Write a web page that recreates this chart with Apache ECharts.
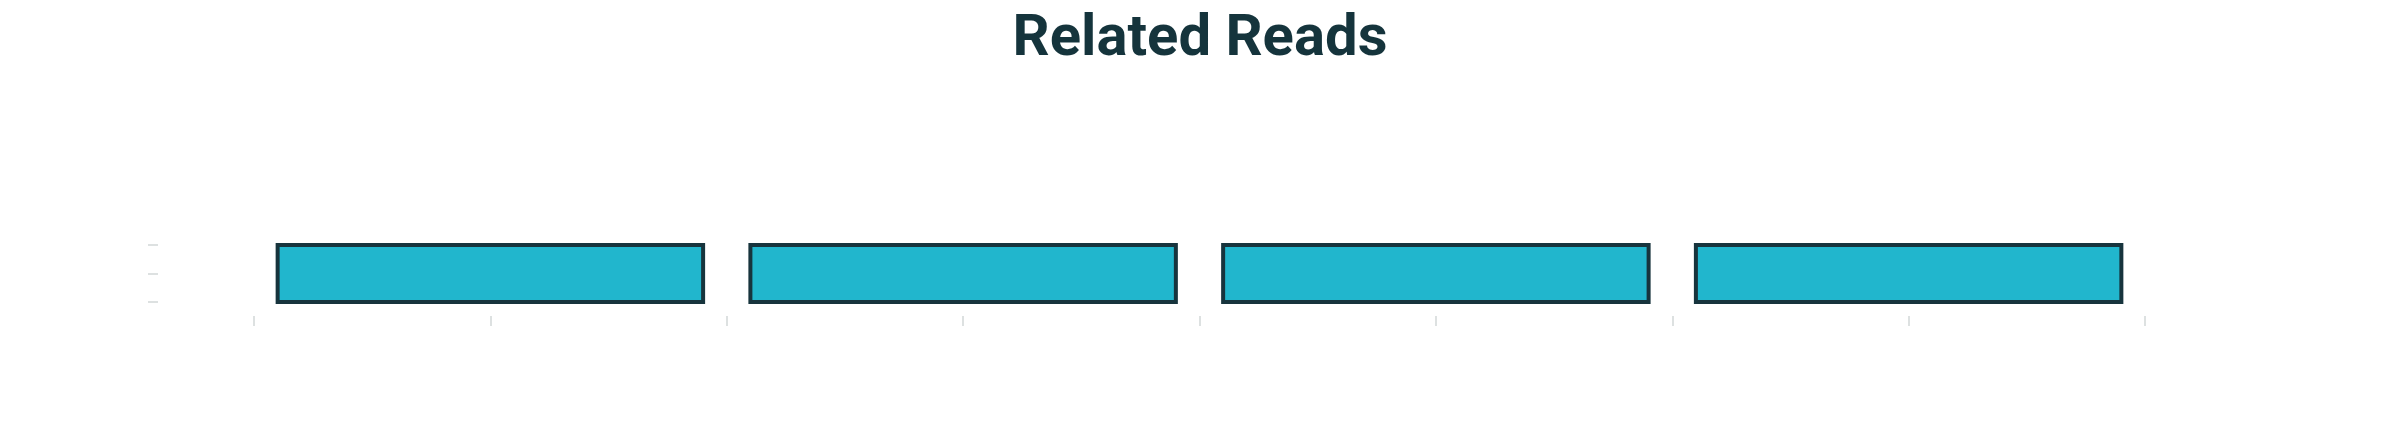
<!DOCTYPE html>
<html>
<head>
<meta charset="utf-8">
<script src="https://cdn.jsdelivr.net/npm/echarts@6/dist/echarts.min.js"></script>
<style>
html,body{margin:0;padding:0;background:#fff;}
#chart{width:2400px;height:440px;}
</style>
</head>
<body>
<div id="chart"></div>
<script>
// Data
const titleText = "Related Reads";
const barStarts = [0.1, 2.1, 4.1, 6.1];
const barEnds = [1.9, 3.9, 5.9, 7.9];
const xTickMin = 0, xTickMax = 8, xTickStep = 1;
const yTickMin = 0, yTickMax = 2, yTickStep = 1;

const chart = echarts.init(document.getElementById('chart'));
const seriesData = barStarts.map((s, i) => [s, barEnds[i]]);

chart.setOption({
  backgroundColor: '#ffffff',
  animation: false,
  title: {
    text: titleText,
    left: 'center',
    top: 6,
    textStyle: {
      fontFamily: 'Roboto, Liberation Sans, Arial, sans-serif',
      fontWeight: 'bold',
      fontSize: 58,
      color: '#15343c'
    }
  },
  grid: { left: 254, right: 255, top: 245, bottom: 138 },
  xAxis: {
    type: 'value',
    min: xTickMin, max: xTickMax, interval: xTickStep,
    offset: 14,
    axisLine: { show: false, onZero: false },
    axisTick: { show: true, length: 10, lineStyle: { color: '#dde1e1', width: 2 } },
    axisLabel: { show: false },
    splitLine: { show: false }
  },
  yAxis: {
    type: 'value',
    min: yTickMin, max: yTickMax, interval: yTickStep,
    offset: 96,
    axisLine: { show: false, onZero: false },
    axisTick: { show: true, length: 10, lineStyle: { color: '#dde1e1', width: 2 } },
    axisLabel: { show: false },
    splitLine: { show: false }
  },
  series: [{
    type: 'custom',
    data: seriesData,
    encode: { x: [0, 1] },
    renderItem: function (params, api) {
      const p0 = api.coord([api.value(0), yTickMax]);
      const p1 = api.coord([api.value(1), yTickMin]);
      return {
        type: 'rect',
        shape: { x: p0[0], y: p0[1], width: p1[0] - p0[0], height: p1[1] - p0[1] },
        style: { fill: '#21b6cd', stroke: '#17343d', lineWidth: 4 }
      };
    }
  }]
});
</script>
</body>
</html>
